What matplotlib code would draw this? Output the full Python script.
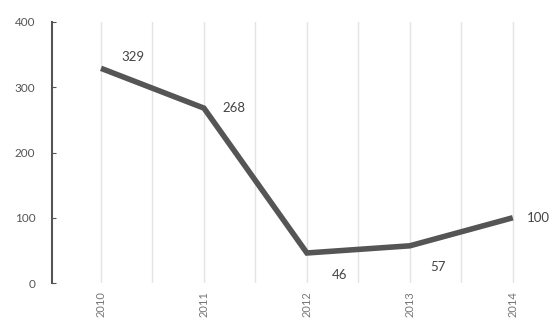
import matplotlib
matplotlib.use("Agg")
import matplotlib.pyplot as plt
import numpy as np

years = ["2010", "2011", "2012", "2013", "2014"]
values = [329, 268, 46, 57, 100]
label_offsets = [(32, 11), (30, 0), (33, -22), (28, -21), (26, 0)]  # pixels

fig = plt.figure(figsize=(5.55, 3.25), dpi=100)
ax = fig.add_axes([52/555, 1-283/325, 1-52/555, (283-22)/325])
x = np.arange(len(years))

ax.set_xlim(-0.476, 4.41)
ax.set_ylim(0, 400)

for g in np.arange(0, 4.6, 0.5):
    ax.axvline(g, color="#e4e4e4", lw=1, zorder=0)

ax.plot(x, values, color="#555555", lw=4, solid_joinstyle="miter", solid_capstyle="butt", zorder=3)

for xi, v, (dx, dy) in zip(x, values, label_offsets):
    ax.annotate(str(v), (xi, v), xytext=(dx, dy), textcoords="offset pixels",
                ha="center", va="center", fontsize=9.5, color="#444444", family="Lato", annotation_clip=False)

for s in ["top", "right", "bottom"]:
    ax.spines[s].set_visible(False)
ax.spines["left"].set_color("#555555")
ax.spines["left"].set_linewidth(1.5)

ax.set_yticks([0, 100, 200, 300, 400])
ax.set_xticks(x)
ax.set_xticklabels(years, rotation=90)
ax.tick_params(axis="y", direction="in", length=3, color="#555555", pad=12, labelsize=8.5, labelcolor="#555555")
ax.tick_params(axis="x", length=0, pad=6, labelsize=8, labelcolor="#777777")
for lab in ax.get_xticklabels() + ax.get_yticklabels():
    lab.set_family("Lato")

fig.savefig("out.png", dpi=100)
